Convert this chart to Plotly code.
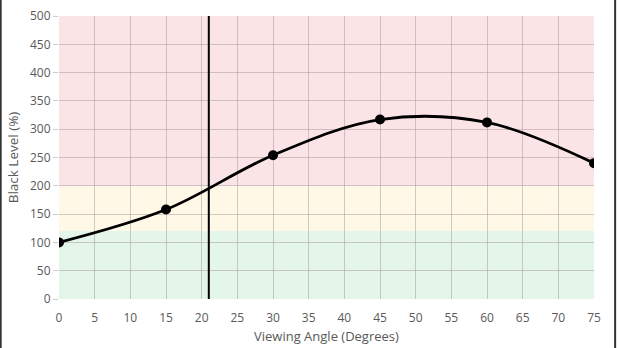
import plotly.graph_objects as go

angles = [0, 15, 30, 45, 60, 75]
black_level = [100, 158, 254, 317, 312, 240]
bands = [(0, 120, "rgb(228,245,234)"), (120, 200, "rgb(255,248,230)"), (200, 500, "rgb(250,228,230)")]
marker_angle = 21
x_ticks = list(range(0, 80, 5))
y_ticks = list(range(0, 550, 50))

fig = go.Figure()
fig.add_trace(go.Scatter(
    x=angles, y=black_level, mode="lines+markers",
    line=dict(color="black", width=2.8, shape="spline", smoothing=1.0),
    marker=dict(color="black", size=10),
    showlegend=False, hoverinfo="skip",
))

shapes = []
for y0, y1, c in bands:
    shapes.append(dict(type="rect", xref="x", yref="y", x0=0, x1=75, y0=y0, y1=y1,
                       fillcolor=c, line=dict(width=0), layer="below"))
shapes.append(dict(type="line", xref="x", yref="y", x0=marker_angle, x1=marker_angle, y0=0, y1=500,
                   line=dict(color="black", width=2), layer="above"))
# outer frame lines
shapes.append(dict(type="line", xref="paper", yref="paper", x0=-0.109, x1=-0.109, y0=-0.2, y1=1.1,
                   line=dict(color="rgb(50,50,50)", width=2)))
shapes.append(dict(type="line", xref="paper", yref="paper", x0=1.0395, x1=1.0395, y0=-0.2, y1=1.1,
                   line=dict(color="rgb(50,50,50)", width=2)))

grid = "rgba(165,150,155,0.5)"
fig.update_layout(
    width=618, height=348,
    margin=dict(l=59, r=24, t=16, b=49, autoexpand=False),
    paper_bgcolor="white", plot_bgcolor="rgba(0,0,0,0)",
    shapes=shapes,
    font=dict(family="Open Sans", color="rgb(89,89,89)", size=12),
    annotations=[dict(text="Viewing Angle (Degrees)", xref="paper", yref="paper", x=0.5, y=-0.132,
                      xanchor="center", yanchor="middle", showarrow=False,
                      font=dict(size=13, color="rgb(89,89,89)"))],
    xaxis=dict(range=[0, 75], tickvals=x_ticks, showgrid=True, gridcolor=grid, gridwidth=1,
               zeroline=False, showline=False, ticks="outside", ticklen=8, tickcolor="rgba(0,0,0,0)",
               automargin=False),
    yaxis=dict(range=[0, 500], tickvals=y_ticks, showgrid=True, gridcolor=grid, gridwidth=1,
               zeroline=False, showline=False, ticks="outside", ticklen=5, tickcolor=grid,
               automargin=False,
               title=dict(text="Black Level (%)", font=dict(size=13.5), standoff=8)),
)
fig.write_html("out.html", config={"displayModeBar": False},
               post_script="document.body.style.margin='0px';document.body.style.overflow='hidden';")
